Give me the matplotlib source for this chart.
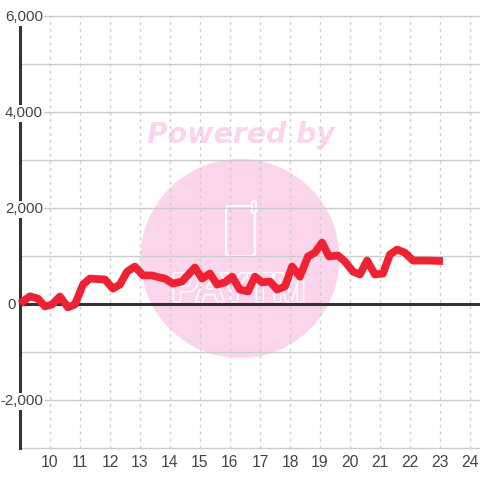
import matplotlib
matplotlib.use('Agg')
from matplotlib import pyplot as plt
from matplotlib import patheffects
from matplotlib.patches import Circle, FancyBboxPatch

# ------------------ дані ------------------
hours = [9.0, 9.33, 9.6, 9.83, 10.07, 10.33, 10.6, 10.83, 11.1, 11.33, 11.83, 12.1, 12.33, 12.57,
         12.83, 13.1, 13.4, 13.67, 13.83, 14.1, 14.4, 14.83, 15.07, 15.33, 15.57, 15.83, 16.07,
         16.33, 16.6, 16.83, 17.07, 17.33, 17.57, 17.83, 18.07, 18.33, 18.6, 18.83, 19.07, 19.3,
         19.6, 19.83, 20.1, 20.33, 20.57, 20.83, 21.1, 21.33, 21.57, 21.83, 22.1, 22.57, 23.1]
values = [10, 160, 110, -50, -10, 155, -70, -10, 405, 530, 510, 320, 405, 675,
          780, 595, 595, 550, 530, 425, 470, 760, 530, 635, 405, 450, 570,
          300, 260, 570, 450, 470, 300, 365, 780, 570, 990, 1070, 1280, 990,
          1010, 885, 675, 615, 905, 615, 635, 1030, 1135, 1070, 905, 905, 895]
x_ticks = list(range(10, 25))
y_ticks = [-2000, 0, 2000, 4000, 6000]
y_minor = [-3000, -1000, 1000, 3000, 5000]

RED = '#ee2233'
DARK = '#333333'
GRID = '#cccccc'
PINK = '#fbd5ec'
TEXT = '#444444'
W = 480

plt.rcParams['font.family'] = ['Liberation Sans', 'DejaVu Sans']
fig = plt.figure(figsize=(4.8, 4.8), dpi=100)

# ------------------ водяний знак у піксельних координатах ------------------
bg = fig.add_axes([0, 0, 1, 1], zorder=0)
bg.set_xlim(0, W)
bg.set_ylim(W, 0)
bg.axis('off')
bg.add_patch(Circle((240, 258.5), 99.5, fc=PINK, ec='none'))
bg.text(241, 135, 'Powered by', color=PINK, fontsize=20.4, fontweight='bold', fontstyle='italic',
        ha='center', va='center', family='DejaVu Sans')
bg.add_patch(FancyBboxPatch((226, 206), 29, 50, boxstyle='round,pad=0,rounding_size=3',
                            fc='none', ec='white', lw=1.5))
bg.add_patch(FancyBboxPatch((252, 201), 4, 12, boxstyle='round,pad=0,rounding_size=1.5',
                            fc=PINK, ec='white', lw=1.5))
bg.text(238.5, 290, 'PAYTM', color=PINK, fontsize=29, fontweight='bold', ha='center', va='center',
        path_effects=[patheffects.withStroke(linewidth=2, foreground='white')])

# ------------------ основний графік ------------------
ax = fig.add_axes([20 / W, (W - 448) / W, (W - 20) / W, 432 / W], zorder=1)
ax.patch.set_alpha(0)
ax.set_xlim(9, 9 + 460 / 30)
ax.set_ylim(-3000, 6000)
for s in ax.spines.values():
    s.set_visible(False)

for y in y_ticks + y_minor:
    ax.axhline(y, color=GRID, lw=1, zorder=1, clip_on=False)
for x in x_ticks:
    ax.axvline(x, color=GRID, lw=1, ls=(0, (2, 3)), zorder=1)

ax.axhline(0, color=DARK, lw=2.2, zorder=2)
ax.axvline(9, color=DARK, lw=2.2, zorder=2, clip_on=False)

ax.plot(hours, values, color=RED, lw=5.6, solid_joinstyle='round', solid_capstyle='butt', zorder=3, clip_on=False)

ax.set_xticks(x_ticks)
ax.set_yticks([])
ax.tick_params(axis='x', length=0, labelsize=11.3, labelcolor=TEXT, pad=5)

for y in y_ticks:
    right = 16 if y == 0 else 43
    ax.annotate(f'{y:,}', (0, y), xycoords=('figure pixels', 'data'), xytext=(right * 0.72, -1),
                textcoords='offset points', ha='right', va='center', fontsize=10.8, color=TEXT,
                annotation_clip=False, zorder=4,
                bbox=dict(fc='white', ec='none', pad=1))

fig.savefig('out.png', dpi=100)
